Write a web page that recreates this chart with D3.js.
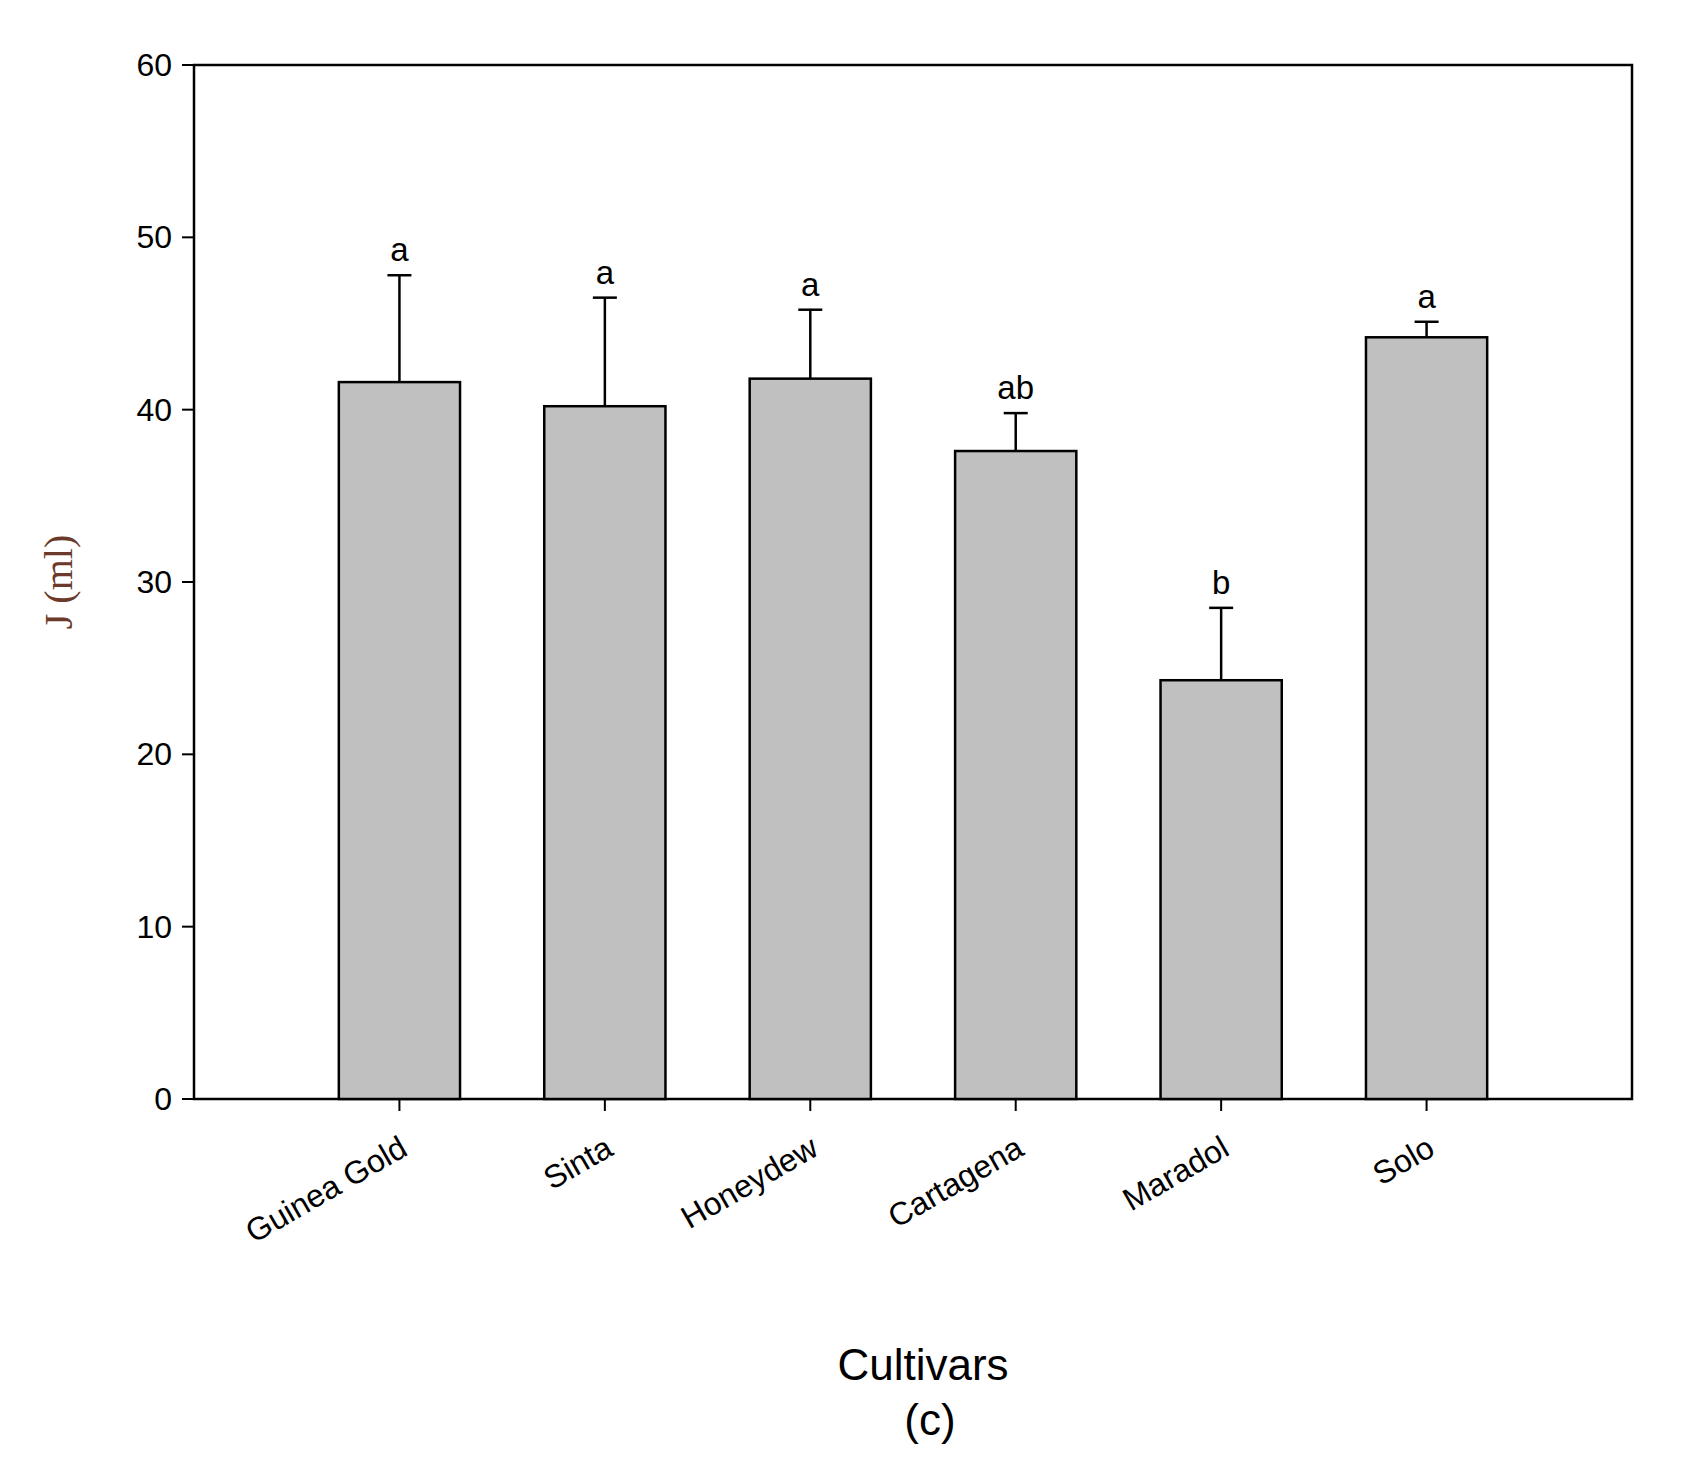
<!DOCTYPE html><html><head><meta charset="utf-8"><script src="https://cdn.jsdelivr.net/npm/d3@7"></script>
<style>body{margin:0;background:#fff}</style></head><body><svg id="c" width="1681" height="1475"></svg>
<script>
const categories=["Guinea Gold","Sinta","Honeydew","Cartagena","Maradol","Solo"];
const values=[41.6,40.2,41.8,37.6,24.3,44.2];
const errors=[6.2,6.3,4.0,2.2,4.2,0.9];
const letters=["a","a","a","ab","b","a"];
const yTicks=[0,10,20,30,40,50,60];
const svg=d3.select("#c");
const L=194,R=1632,T=65,B=1099;
const x=d3.scaleLinear().domain([0,categories.length+1]).range([L,R]);
const y=d3.scaleLinear().domain([0,60]).range([B,T]);
const bw=(x(1)-x(0))*0.59;
const F="Liberation Sans, Arial, sans-serif";
svg.append("rect").attr("x",L).attr("y",T).attr("width",R-L).attr("height",B-T).attr("fill","none").attr("stroke","#000").attr("stroke-width",2.5);
const g=svg.selectAll(".b").data(categories).enter().append("g");
g.append("line").attr("x1",(d,i)=>x(i+1)).attr("x2",(d,i)=>x(i+1)).attr("y1",(d,i)=>y(values[i])).attr("y2",(d,i)=>y(values[i]+errors[i])).attr("stroke","#000").attr("stroke-width",2.5);
g.append("line").attr("x1",(d,i)=>x(i+1)-12).attr("x2",(d,i)=>x(i+1)+12).attr("y1",(d,i)=>y(values[i]+errors[i])).attr("y2",(d,i)=>y(values[i]+errors[i])).attr("stroke","#000").attr("stroke-width",2.5);
g.append("rect").attr("x",(d,i)=>x(i+1)-bw/2).attr("width",bw).attr("y",(d,i)=>y(values[i])).attr("height",(d,i)=>B-y(values[i])).attr("fill","#c0c0c0").attr("stroke","#000").attr("stroke-width",2.5);
g.append("text").attr("x",(d,i)=>x(i+1)).attr("y",(d,i)=>y(values[i]+errors[i])-14).attr("text-anchor","middle").attr("font-family",F).attr("font-size",33).text((d,i)=>letters[i]);
g.append("line").attr("x1",(d,i)=>x(i+1)).attr("x2",(d,i)=>x(i+1)).attr("y1",B).attr("y2",B+12).attr("stroke","#000").attr("stroke-width",2);
g.append("text").attr("transform",(d,i)=>`translate(${x(i+1)+10},${B+55}) rotate(-30)`).attr("text-anchor","end").attr("font-family",F).attr("font-size",32).text(d=>d);
const yt=svg.selectAll(".yt").data(yTicks).enter();
yt.append("line").attr("x1",L-12).attr("x2",L).attr("y1",d=>y(d)).attr("y2",d=>y(d)).attr("stroke","#000").attr("stroke-width",2);
yt.append("text").attr("x",L-22).attr("y",d=>y(d)+11).attr("text-anchor","end").attr("font-family",F).attr("font-size",32).text(d=>d);
svg.append("text").attr("transform",`translate(72,${(T+B)/2}) rotate(-90)`).attr("text-anchor","middle").attr("font-family","Liberation Serif, serif").attr("font-size",40).attr("fill","#6b3a2a").text("J (ml)");
svg.append("text").attr("x",923).attr("y",1380).attr("text-anchor","middle").attr("font-family",F).attr("font-size",44).text("Cultivars");
svg.append("text").attr("x",930).attr("y",1435).attr("text-anchor","middle").attr("font-family",F).attr("font-size",44).text("(c)");
</script></body></html>
